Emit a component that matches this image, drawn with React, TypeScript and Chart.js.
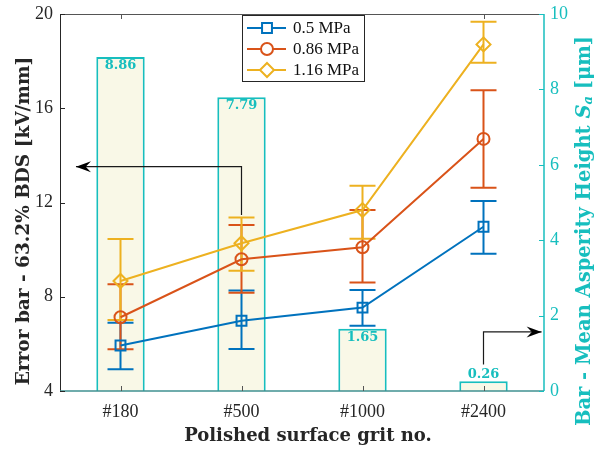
import React, { useEffect, useRef } from 'react';
import { Chart, registerables } from 'chart.js';

Chart.register(...registerables);

const categories = ['#180', '#500', '#1000', '#2400'];
const asperity = [8.86, 7.79, 1.65, 0.26];

const labels = ['0.5 MPa', '0.86 MPa', '1.16 MPa'];
const bds05 = [5.93, 6.98, 7.54, 10.97];
const bds05Low = [4.92, 5.78, 6.77, 9.83];
const bds05High = [6.9, 8.26, 8.29, 12.06];
const bds086 = [7.13, 9.59, 10.1, 14.7];
const bds086Low = [5.77, 8.17, 8.6, 12.63];
const bds086High = [8.53, 11.05, 11.68, 16.76];
const bds116 = [8.67, 10.27, 11.68, 18.71];
const bds116Low = [7.01, 9.1, 10.46, 17.93];
const bds116High = [10.45, 11.36, 12.71, 19.67];

const leftTicks = [4, 8, 12, 16, 20];
const rightTicks = [0, 2, 4, 6, 8, 10];

const xTitle = 'Polished surface grit no.';
const yTitle = 'Error bar - 63.2% BDS [kV/mm]';

// arrows in data space: [x(category index), y value]
const arrowLeft = [[1, 11.47], [1, 13.52], [-0.368, 13.52]];
const arrowRight = [[3, 0.7], [3, 1.566], [3.48, 1.566]];

const BLUE = '#0072BD';
const ORANGE = '#D95319';
const YELLOW = '#EDB120';
const TEAL = '#17BEBE';
const BARFILL = '#F9F8E7';
const DARK = '#262626';
const SERIF = "'Liberation Serif', 'DejaVu Serif', serif";
const BOLDSERIF = "'DejaVu Serif', 'Liberation Serif', serif";

const series = [
  { label: labels[0], data: bds05, low: bds05Low, high: bds05High, color: BLUE, style: 'rect', radius: 7 },
  { label: labels[1], data: bds086, low: bds086Low, high: bds086High, color: ORANGE, style: 'circle', radius: 6 },
  { label: labels[2], data: bds116, low: bds116Low, high: bds116High, color: YELLOW, style: 'rectRot', radius: 7 },
];

function drawArrow(ctx: CanvasRenderingContext2D, pts: number[][]) {
  ctx.save();
  ctx.strokeStyle = '#1a1a1a';
  ctx.fillStyle = '#000';
  ctx.lineWidth = 1.2;
  ctx.beginPath();
  ctx.moveTo(pts[0][0], pts[0][1]);
  for (let i = 1; i < pts.length; i++) ctx.lineTo(pts[i][0], pts[i][1]);
  ctx.stroke();
  const [x1, y1] = pts[pts.length - 2];
  const [x2, y2] = pts[pts.length - 1];
  const a = Math.atan2(y2 - y1, x2 - x1);
  const L = 15, W = 5.5;
  ctx.translate(x2, y2);
  ctx.rotate(a);
  ctx.beginPath();
  ctx.moveTo(0, 0);
  ctx.lineTo(-L, -W);
  ctx.lineTo(-L * 0.65, 0);
  ctx.lineTo(-L, W);
  ctx.closePath();
  ctx.fill();
  ctx.restore();
}

const overlay = {
  id: 'overlay',
  afterDatasetDraw(chart: any, args: any) {
    if (args.meta.type !== 'bar') return;
    const ctx = chart.ctx;
    const xs = chart.scales.x;
    const ys = chart.scales.y;
    ctx.save();
    series.forEach((s) => {
      ctx.strokeStyle = s.color;
      ctx.lineWidth = 2;
      s.data.forEach((_, i) => {
        const px = xs.getPixelForValue(i);
        const lo = ys.getPixelForValue(s.low[i]);
        const hi = ys.getPixelForValue(s.high[i]);
        ctx.beginPath();
        ctx.moveTo(px, lo);
        ctx.lineTo(px, hi);
        ctx.moveTo(px - 13, lo);
        ctx.lineTo(px + 13, lo);
        ctx.moveTo(px - 13, hi);
        ctx.lineTo(px + 13, hi);
        ctx.stroke();
      });
    });
    ctx.restore();
  },
  afterDraw(chart: any) {
    const ctx = chart.ctx;
    const ca = chart.chartArea;
    const xs = chart.scales.x;
    const ys = chart.scales.y;
    const y2 = chart.scales.y2;
    ctx.save();

    // bar value labels
    ctx.font = `bold 13px ${BOLDSERIF}`;
    ctx.fillStyle = TEAL;
    ctx.textAlign = 'center';
    ctx.textBaseline = 'middle';
    asperity.forEach((v, i) => {
      const px = xs.getPixelForValue(i);
      const top = y2.getPixelForValue(v);
      const h = y2.getPixelForValue(0) - top;
      const ty = h > 25 ? top + 8.5 : top - 7;
      ctx.fillText(v.toFixed(2), px, ty);
    });

    // arrows
    drawArrow(ctx, arrowLeft.map(([a, b]) => [xs.getPixelForValue(a), ys.getPixelForValue(b)]));
    drawArrow(ctx, arrowRight.map(([a, b]) => [xs.getPixelForValue(a), y2.getPixelForValue(b)]));

    // axes frame
    ctx.lineWidth = 1;
    ctx.strokeStyle = '#555';
    ctx.beginPath();
    ctx.moveTo(ca.left, ca.top + 0.5);
    ctx.lineTo(ca.right, ca.top + 0.5);
    ctx.stroke();
    ctx.strokeStyle = DARK;
    ctx.beginPath();
    ctx.moveTo(ca.left + 0.5, ca.top);
    ctx.lineTo(ca.left + 0.5, ca.bottom);
    ctx.stroke();
    ctx.strokeStyle = '#3f9090';
    ctx.lineWidth = 1.5;
    ctx.beginPath();
    ctx.moveTo(ca.left, ca.bottom);
    ctx.lineTo(ca.right, ca.bottom);
    ctx.stroke();
    ctx.strokeStyle = TEAL;
    ctx.beginPath();
    ctx.moveTo(ca.right, ca.top);
    ctx.lineTo(ca.right, ca.bottom);
    ctx.stroke();

    // ticks
    ctx.lineWidth = 1;
    ctx.strokeStyle = DARK;
    leftTicks.forEach((t) => {
      const py = Math.round(ys.getPixelForValue(t)) + 0.5;
      ctx.beginPath();
      ctx.moveTo(ca.left, py);
      ctx.lineTo(ca.left + 5, py);
      ctx.stroke();
    });
    ctx.strokeStyle = TEAL;
    rightTicks.forEach((t) => {
      const py = Math.round(y2.getPixelForValue(t)) + 0.5;
      ctx.beginPath();
      ctx.moveTo(ca.right - 5, py);
      ctx.lineTo(ca.right, py);
      ctx.stroke();
    });
    ctx.strokeStyle = '#555';
    categories.forEach((_, i) => {
      const px = Math.round(xs.getPixelForValue(i)) + 0.5;
      ctx.beginPath();
      ctx.moveTo(px, ca.bottom);
      ctx.lineTo(px, ca.bottom - 5);
      ctx.moveTo(px, ca.top);
      ctx.lineTo(px, ca.top + 5);
      ctx.stroke();
    });

    // x axis title
    ctx.fillStyle = DARK;
    ctx.font = `bold 18px ${BOLDSERIF}`;
    ctx.textAlign = 'center';
    ctx.textBaseline = 'middle';
    ctx.fillText(xTitle, 308, 436);

    // left axis title
    ctx.save();
    ctx.translate(24, 221);
    ctx.rotate(-Math.PI / 2);
    ctx.fillStyle = DARK;
    ctx.font = `bold 18.5px ${BOLDSERIF}`;
    ctx.textAlign = 'center';
    ctx.textBaseline = 'middle';
    ctx.fillText(yTitle, 0, 0);
    ctx.restore();

    // right axis title
    ctx.save();
    ctx.translate(585, 231);
    ctx.rotate(-Math.PI / 2);
    ctx.fillStyle = TEAL;
    ctx.textBaseline = 'middle';
    ctx.textAlign = 'left';
    const p1 = 'Bar - Mean Asperity Height ';
    const p2 = 'S';
    const p3 = 'a';
    const p4 = ' [\u03bcm]';
    const fBold = `bold 19.5px ${BOLDSERIF}`;
    const fIt = `bold italic 19.5px ${BOLDSERIF}`;
    const fSub = `bold italic 13px ${BOLDSERIF}`;
    ctx.font = fBold;
    const w1 = ctx.measureText(p1).width;
    const w4 = ctx.measureText(p4).width;
    ctx.font = fIt;
    const w2 = ctx.measureText(p2).width;
    ctx.font = fSub;
    const w3 = ctx.measureText(p3).width;
    let x0 = -(w1 + w2 + w3 + w4) / 2;
    ctx.font = fBold;
    ctx.fillText(p1, x0, 0);
    x0 += w1;
    ctx.font = fIt;
    ctx.fillText(p2, x0, 0);
    x0 += w2;
    ctx.font = fSub;
    ctx.fillText(p3, x0, 4);
    x0 += w3;
    ctx.font = fBold;
    ctx.fillText(p4, x0, 0);
    ctx.restore();

    // legend
    const lx = ca.left + 182;
    const ly = ca.top + 1;
    const lw = 122;
    const lh = 66;
    ctx.fillStyle = '#fff';
    ctx.fillRect(lx, ly, lw, lh);
    ctx.strokeStyle = DARK;
    ctx.lineWidth = 1;
    ctx.strokeRect(lx + 0.5, ly + 0.5, lw, lh);
    series.forEach((s, i) => {
      const cy = ly + 13 + i * 21;
      ctx.strokeStyle = s.color;
      ctx.lineWidth = 2;
      ctx.beginPath();
      ctx.moveTo(lx + 5, cy);
      ctx.lineTo(lx + 44, cy);
      ctx.stroke();
      ctx.fillStyle = '#fff';
      ctx.beginPath();
      if (s.style === 'rect') {
        const h = s.radius * Math.SQRT1_2;
        ctx.rect(lx + 25 - h, cy - h, 2 * h, 2 * h);
      } else if (s.style === 'circle') {
        ctx.arc(lx + 25, cy, s.radius, 0, Math.PI * 2);
      } else {
        const r = s.radius;
        ctx.moveTo(lx + 25, cy - r);
        ctx.lineTo(lx + 25 + r, cy);
        ctx.lineTo(lx + 25, cy + r);
        ctx.lineTo(lx + 25 - r, cy);
        ctx.closePath();
      }
      ctx.fill();
      ctx.stroke();
      ctx.fillStyle = '#111';
      ctx.font = `17px ${SERIF}`;
      ctx.textAlign = 'left';
      ctx.textBaseline = 'middle';
      ctx.fillText(s.label, lx + 51, cy + 1);
    });

    ctx.restore();
  },
};

export default function App() {
  const ref = useRef<HTMLCanvasElement | null>(null);
  useEffect(() => {
    if (!ref.current) return;
    const chart = new Chart(ref.current, {
      type: 'bar',
      data: {
        labels: categories,
        datasets: [
          {
            type: 'bar',
            label: 'Sa',
            data: asperity,
            yAxisID: 'y2',
            backgroundColor: BARFILL,
            borderColor: TEAL,
            borderWidth: 2,
            barPercentage: 0.4,
            categoryPercentage: 1,
            order: 10,
          } as any,
          ...series.map((s, i) => ({
            type: 'line',
            label: s.label,
            data: s.data,
            yAxisID: 'y',
            borderColor: s.color,
            borderWidth: 2,
            pointStyle: s.style,
            pointRadius: s.radius,
            pointBorderWidth: 2,
            pointBorderColor: s.color,
            pointBackgroundColor: 'rgba(0,0,0,0)',
            fill: false,
            tension: 0,
            order: 3 - i,
          })),
        ],
      },
      options: {
        animation: false,
        responsive: false,
        maintainAspectRatio: false,
        layout: { padding: { top: 14, left: 0, right: 0, bottom: 0 } },
        plugins: { legend: { display: false }, tooltip: { enabled: false } },
        scales: {
          x: {
            type: 'category',
            offset: true,
            grid: { display: false, drawTicks: false },
            border: { display: false },
            ticks: { font: { family: SERIF, size: 18 }, color: DARK, padding: 10 },
            afterFit: (s: any) => { s.height = 58; s.paddingLeft = 0; s.paddingRight = 0; },
          },
          y: {
            position: 'left',
            min: 4,
            max: 20,
            grid: { display: false, drawTicks: false },
            border: { display: false },
            ticks: { stepSize: 4, font: { family: SERIF, size: 18 }, color: DARK, padding: 7 },
            afterFit: (s: any) => { s.width = 60; s.paddingTop = 0; s.paddingBottom = 0; },
          },
          y2: {
            position: 'right',
            min: 0,
            max: 10,
            grid: { display: false, drawTicks: false },
            border: { display: false },
            ticks: { stepSize: 2, font: { family: SERIF, size: 18 }, color: TEAL, padding: 6 },
            afterFit: (s: any) => { s.width = 54; s.paddingTop = 0; s.paddingBottom = 0; },
          },
        },
      } as any,
      plugins: [overlay],
    });
    return () => chart.destroy();
  }, []);
  return (
    <div style={{ position: 'fixed', left: 0, top: 0, width: 598, height: 449, background: '#fff' }}>
      <canvas ref={ref} width={598} height={449} style={{ width: 598, height: 449, display: 'block' }} />
    </div>
  );
}
